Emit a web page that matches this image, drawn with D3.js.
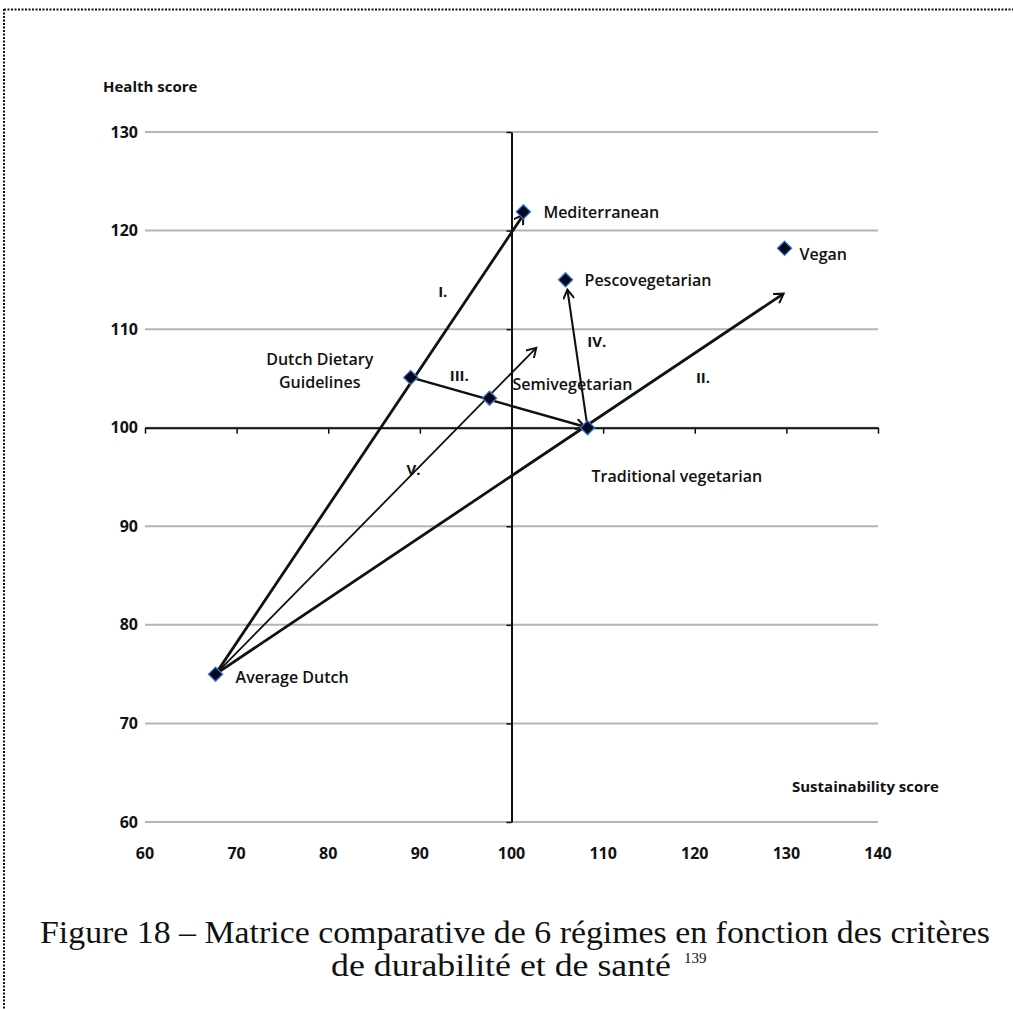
<!DOCTYPE html>
<html>
<head>
<meta charset="utf-8">
<script src="https://cdn.jsdelivr.net/npm/d3@7"></script>
<style>
  body { margin: 0; background: #fff; }
  svg { display: block; }
</style>
</head>
<body>
<script>
// Diets (points)
const diets = ["Average Dutch", "Dutch Dietary Guidelines", "Semivegetarian", "Traditional vegetarian", "Mediterranean", "Pescovegetarian", "Vegan"];
const sustainability = [67.7, 89.0, 97.6, 108.3, 101.3, 105.9, 129.8];
const health = [75, 105.1, 103, 100, 121.9, 115, 118.2];

// Transition arrows (start / end in score units)
const arrowNames = ["I.", "II.", "III.", "IV.", "V."];
const arrowFromX = [67.7, 67.7, 89.0, 108.3, 67.7];
const arrowFromY = [75, 75, 105.1, 100, 75];
const arrowToX = [101.3, 129.7, 108.0, 106.1, 102.7];
const arrowToY = [121.6, 113.6, 100.1, 114.0, 108.1];
const arrowLabelX = [92.5, 120.9, 94.3, 109.3, 89.3];
const arrowLabelY = [113.8, 105.1, 105.3, 108.7, 95.7];

const xTicks = [60, 70, 80, 90, 100, 110, 120, 130, 140];
const yTicks = [60, 70, 80, 90, 100, 110, 120, 130];

const W = 1013, H = 1009;
const svg = d3.select("body").append("svg")
    .attr("width", W)
    .attr("height", H);

// dotted frame (top and left)
svg.append("line").attr("x1", 4).attr("x2", W).attr("y1", 9.5).attr("y2", 9.5)
    .attr("stroke", "#111").attr("stroke-width", 2).attr("stroke-dasharray", "2,1.5");
svg.append("line").attr("x1", 4).attr("x2", 4).attr("y1", 9).attr("y2", H)
    .attr("stroke", "#111").attr("stroke-width", 2).attr("stroke-dasharray", "2,1.5");

const x = d3.scaleLinear().domain([60, 140]).range([145, 878]);
const y = d3.scaleLinear().domain([60, 130]).range([822, 132]);

const font = "'Open Sans', sans-serif";

// gridlines
svg.append("g")
    .selectAll("line")
    .data(yTicks)
    .enter().append("line")
    .attr("x1", x(60))
    .attr("x2", x(140))
    .attr("y1", d => y(d))
    .attr("y2", d => y(d))
    .attr("stroke", "#b5b5b5")
    .attr("stroke-width", 2);

// y tick labels
svg.append("g")
    .selectAll("text")
    .data(yTicks)
    .enter().append("text")
    .attr("x", 138)
    .attr("y", d => y(d))
    .attr("dy", "0.35em")
    .attr("text-anchor", "end")
    .style("font-family", font)
    .style("font-weight", 700)
    .style("font-size", "16px")
    .style("fill", "#111")
    .text(d => d);

// x tick labels
svg.append("g")
    .selectAll("text")
    .data(xTicks)
    .enter().append("text")
    .attr("x", d => x(d))
    .attr("y", 859)
    .attr("text-anchor", "middle")
    .style("font-family", font)
    .style("font-weight", 700)
    .style("font-size", "16px")
    .style("fill", "#111")
    .text(d => d);

// crossing axes at (100, 100)
const xAxis = svg.append("g")
    .attr("transform", "translate(0," + y(100) + ")")
    .call(d3.axisBottom(x).tickValues(xTicks).tickSize(6).tickSizeOuter(0).tickFormat(""));
const yAxis = svg.append("g")
    .attr("transform", "translate(" + x(100) + ",0)")
    .call(d3.axisLeft(y).tickValues(yTicks).tickSize(5).tickSizeOuter(0).tickFormat(""));
[xAxis, yAxis].forEach(a => {
    a.select(".domain").attr("stroke", "#111").attr("stroke-width", 2);
    a.selectAll(".tick line").attr("stroke", "#111").attr("stroke-width", 1.5);
});

// arrow marker
svg.append("defs").append("marker")
    .attr("id", "arrow")
    .attr("viewBox", "-10 -6 12 12")
    .attr("refX", 0)
    .attr("refY", 0)
    .attr("markerWidth", 12)
    .attr("markerHeight", 12)
    .attr("markerUnits", "userSpaceOnUse")
    .attr("orient", "auto")
    .append("path")
    .attr("d", "M-9,-5.5 L0,0 L-9,5.5")
    .attr("fill", "none")
    .attr("stroke", "#111")
    .attr("stroke-width", 2);

const arrowWidth = [2.8, 2.8, 2.4, 2.1, 1.8];
svg.append("g")
    .selectAll("line")
    .data(arrowNames)
    .enter().append("line")
    .attr("x1", (d, i) => x(arrowFromX[i]))
    .attr("y1", (d, i) => y(arrowFromY[i]))
    .attr("x2", (d, i) => x(arrowToX[i]))
    .attr("y2", (d, i) => y(arrowToY[i]))
    .attr("stroke", "#111")
    .attr("stroke-width", (d, i) => arrowWidth[i])
    .attr("marker-end", "url(#arrow)");

svg.append("g")
    .selectAll("text")
    .data(arrowNames)
    .enter().append("text")
    .attr("x", (d, i) => x(arrowLabelX[i]))
    .attr("y", (d, i) => y(arrowLabelY[i]))
    .attr("dy", "0.35em")
    .attr("text-anchor", "middle")
    .style("font-family", font)
    .style("font-weight", 700)
    .style("font-size", "15px")
    .style("fill", "#111")
    .text(d => d);

// diamonds
const diamond = d3.symbol().type(d3.symbolDiamond2).size(130);
svg.append("g")
    .selectAll("path")
    .data(diets)
    .enter().append("path")
    .attr("d", diamond)
    .attr("transform", (d, i) => "translate(" + x(sustainability[i]) + "," + y(health[i]) + ")")
    .attr("fill", "#050a1e")
    .attr("stroke", "#3a78d8")
    .attr("stroke-width", 1.2);

// point labels (pixel offsets from each diamond)
const labelOffsets = {
    "Average Dutch": [20, 3, "start"],
    "Dutch Dietary Guidelines": [-91, -18, "middle"],
    "Semivegetarian": [23, -14, "start"],
    "Traditional vegetarian": [4, 49, "start"],
    "Mediterranean": [20, 1, "start"],
    "Pescovegetarian": [19, 1, "start"],
    "Vegan": [15, 6, "start"]
};
const labels = svg.append("g");
diets.forEach((d, i) => {
    const o = labelOffsets[d];
    const t = labels.append("text")
        .attr("x", x(sustainability[i]) + o[0])
        .attr("y", y(health[i]) + o[1])
        .attr("dy", "0.35em")
        .attr("text-anchor", o[2])
        .style("font-family", font)
        .style("font-weight", 600)
        .style("font-size", "16px")
        .style("fill", "#111");
    if (d === "Dutch Dietary Guidelines") {
        t.append("tspan").attr("x", x(sustainability[i]) + o[0]).text("Dutch Dietary");
        t.append("tspan").attr("x", x(sustainability[i]) + o[0]).attr("dy", "1.45em").text("Guidelines");
    } else {
        t.text(d);
    }
});

// axis titles
svg.append("text")
    .attr("x", 103)
    .attr("y", 92)
    .style("font-family", font)
    .style("font-weight", 700)
    .style("font-size", "15px")
    .style("fill", "#111")
    .text("Health score");
svg.append("text")
    .attr("x", 792)
    .attr("y", 792)
    .style("font-family", font)
    .style("font-weight", 700)
    .style("font-size", "15px")
    .style("fill", "#111")
    .text("Sustainability score");

// caption
const cap = svg.append("g").style("font-family", "'Liberation Serif', serif").style("fill", "#111");
cap.append("text")
    .attr("x", 40)
    .attr("y", 943)
    .attr("textLength", 950)
    .attr("lengthAdjust", "spacingAndGlyphs")
    .style("font-size", "31px")
    .text("Figure 18 – Matrice comparative de 6 régimes en fonction des critères");
cap.append("text")
    .attr("x", 331)
    .attr("y", 976)
    .attr("textLength", 340)
    .attr("lengthAdjust", "spacingAndGlyphs")
    .style("font-size", "31px")
    .text("de durabilité et de santé");
cap.append("text")
    .attr("x", 684)
    .attr("y", 963)
    .style("font-size", "15px")
    .text("139");
</script>
</body>
</html>
